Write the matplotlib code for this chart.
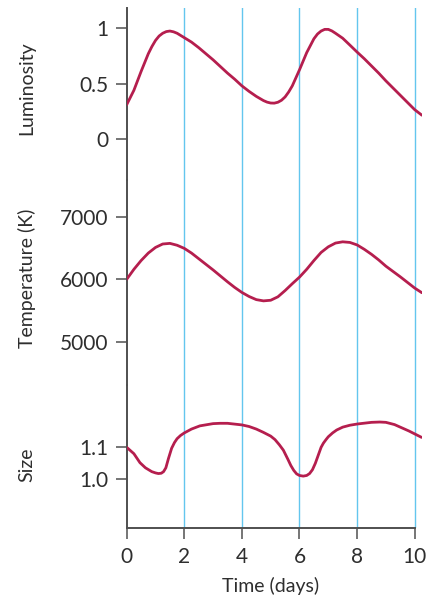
import matplotlib
matplotlib.use("Agg")
import matplotlib.pyplot as plt

plt.rcParams['font.family'] = ['Lato', 'DejaVu Sans']

# ---- data ----
days_lum = [0.0, 0.25, 0.5, 0.75, 0.875, 1.0, 1.125, 1.25, 1.375, 1.5, 1.625, 1.75,
            2.0, 2.25, 2.5, 2.75, 3.0, 3.25, 3.5, 3.75, 4.0, 4.25, 4.5, 4.75, 4.875,
            5.0, 5.125, 5.25, 5.375, 5.5, 5.625, 5.75, 6.0, 6.25, 6.5, 6.625, 6.75,
            6.875, 7.0, 7.125, 7.25, 7.5, 7.75, 8.0, 8.25, 8.5, 8.75, 9.0, 9.25, 9.5,
            9.75, 10.0, 10.25]
luminosity = [0.31, 0.44, 0.61, 0.77, 0.835, 0.89, 0.93, 0.955, 0.97, 0.975, 0.968,
              0.955, 0.915, 0.875, 0.825, 0.77, 0.715, 0.655, 0.595, 0.54, 0.48, 0.43,
              0.385, 0.347, 0.333, 0.325, 0.324, 0.332, 0.35, 0.38, 0.425, 0.48, 0.625,
              0.78, 0.905, 0.948, 0.975, 0.99, 0.99, 0.976, 0.955, 0.91, 0.848, 0.785,
              0.725, 0.66, 0.595, 0.525, 0.46, 0.395, 0.33, 0.265, 0.215]

days_temp = [0.0, 0.25, 0.5, 0.75, 1.0, 1.25, 1.5, 1.75, 2.0, 2.25, 2.5, 2.75, 3.0,
             3.25, 3.5, 3.75, 4.0, 4.25, 4.5, 4.75, 5.0, 5.25, 5.5, 5.75, 6.0, 6.25,
             6.5, 6.75, 7.0, 7.25, 7.5, 7.75, 8.0, 8.25, 8.5, 8.75, 9.0, 9.25, 9.5,
             9.75, 10.0, 10.25]
temperature = [6000, 6160, 6300, 6420, 6510, 6565, 6575, 6545, 6495, 6420, 6330, 6240,
               6150, 6055, 5960, 5870, 5790, 5725, 5675, 5655, 5665, 5720, 5820, 5930,
               6035, 6160, 6300, 6430, 6520, 6580, 6600, 6590, 6550, 6480, 6400, 6310,
               6210, 6125, 6040, 5950, 5860, 5785]

days_size = [0.0, 0.25, 0.46, 0.65, 0.87, 1.0, 1.1, 1.2, 1.28, 1.36, 1.45, 1.56, 1.66,
             1.75, 1.87, 2.0, 2.25, 2.54, 3.0, 3.24, 3.5, 4.0, 4.25, 4.5, 4.74, 5.0,
             5.15, 5.3, 5.44, 5.6, 5.7, 5.8, 5.9, 6.0, 6.13, 6.25, 6.35, 6.45, 6.55,
             6.65, 6.75, 6.83, 6.92, 7.0, 7.15, 7.29, 7.5, 7.75, 8.02, 8.5, 8.79, 9.0,
             9.3, 9.6, 9.8, 10.02, 10.24]
size = [1.100, 1.080, 1.052, 1.036, 1.024, 1.020, 1.018, 1.019, 1.024, 1.036, 1.065,
        1.097, 1.115, 1.127, 1.137, 1.145, 1.157, 1.167, 1.174, 1.175, 1.175, 1.170,
        1.165, 1.157, 1.147, 1.135, 1.124, 1.108, 1.091, 1.062, 1.043, 1.028, 1.017,
        1.012, 1.010, 1.012, 1.018, 1.030, 1.050, 1.075, 1.100, 1.113, 1.124, 1.133,
        1.145, 1.154, 1.163, 1.169, 1.173, 1.178, 1.179, 1.178, 1.171, 1.159, 1.151,
        1.141, 1.131]

x_ticks = [0, 2, 4, 6, 8, 10]
grid_days = [2, 4, 6, 8, 10]
lum_ticks = [0, 0.5, 1]
lum_labels = ['0', '0.5', '1']
temp_ticks = [5000, 6000, 7000]
size_ticks = [1.0, 1.1]
size_labels = ['1.0', '1.1']

# ---- style ----
curve_color = '#B51E4E'
grid_color = '#63C6EE'
spine_color = '#4F4F4F'
text_color = '#2E2E2E'

fig = plt.figure(figsize=(4.30, 6.01), dpi=100)

left, width = 0.29465, 0.6865
ax_lum = fig.add_axes([left, 0.70050, width, 0.98669 - 0.70050])
ax_temp = fig.add_axes([left, 0.35940, width, 0.70050 - 0.35940])
ax_size = fig.add_axes([left, 0.12196, width, 0.35940 - 0.12196])

for ax in (ax_lum, ax_temp, ax_size):
    ax.set_xlim(0, 10.25)
    ax.patch.set_alpha(0)
    for s in ('top', 'right'):
        ax.spines[s].set_visible(False)
    ax.spines['left'].set_color(spine_color)
    ax.spines['left'].set_linewidth(1.4)
    for d in grid_days:
        ax.axvline(d, color=grid_color, lw=1.0, zorder=1)
    ax.tick_params(axis='y', direction='out', length=8, width=1.1, color=spine_color,
                   labelsize=15, labelcolor=text_color, pad=5)

for ax in (ax_lum, ax_temp):
    ax.spines['bottom'].set_visible(False)
    ax.set_xticks([])

line_kw = dict(color=curve_color, lw=2.0, zorder=3, solid_capstyle='round',
               solid_joinstyle='round')

ax_lum.plot(days_lum, luminosity, **line_kw)
ax_lum.set_ylim(-0.370, 1.183)
ax_lum.set_yticks(lum_ticks)
ax_lum.set_yticklabels(lum_labels)

ax_temp.plot(days_temp, temperature, **line_kw)
ax_temp.set_ylim(4309, 7589)
ax_temp.set_yticks(temp_ticks)
ax_temp.set_yticklabels([str(t) for t in temp_ticks])

ax_size.plot(days_size, size, **line_kw)
ax_size.set_ylim(0.8488, 1.2947)
ax_size.set_yticks(size_ticks)
ax_size.set_yticklabels(size_labels)
ax_size.spines['bottom'].set_color(spine_color)
ax_size.spines['bottom'].set_linewidth(1.4)
ax_size.spines['bottom'].set_bounds(0, 10)
ax_size.set_xticks(x_ticks)
ax_size.set_xticklabels([str(t) for t in x_ticks])
ax_size.tick_params(axis='x', direction='out', length=8, width=1.1, color=spine_color,
                    labelsize=15, labelcolor=text_color, pad=6)

# axis labels
label_kw = dict(rotation=90, ha='center', va='center', fontsize=14, color=text_color)
fig.text(27 / 430, 1 - 88 / 601, 'Luminosity', **label_kw)
fig.text(27 / 430, 1 - 278 / 601, 'Temperature (K)', **label_kw)
fig.text(27 / 430, 1 - 465 / 601, 'Size', **label_kw)
fig.text(271 / 430, 1 - 586 / 601, 'Time (days)', ha='center', va='center',
         fontsize=14, color=text_color)

fig.savefig('out.png', dpi=100)
